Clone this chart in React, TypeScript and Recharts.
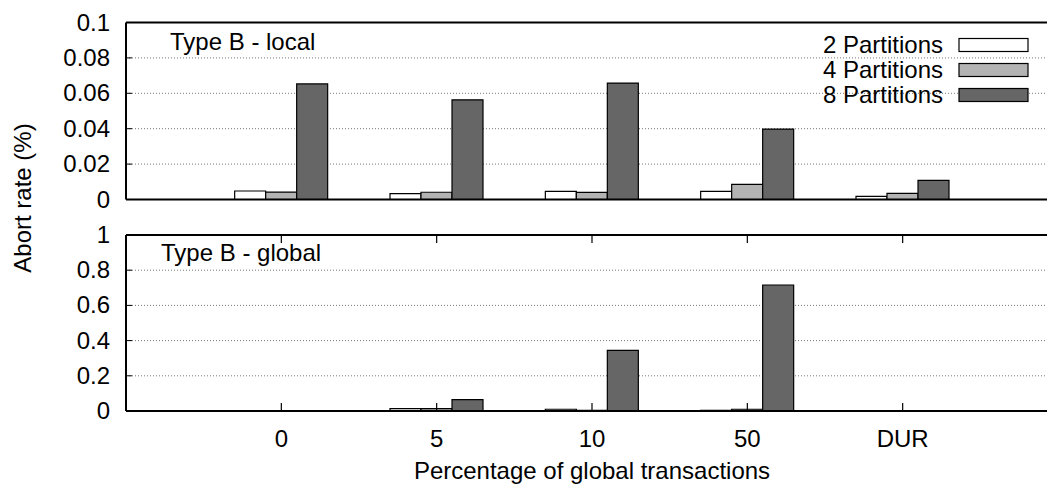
import { Bar, BarChart, CartesianGrid, XAxis, YAxis } from "recharts";

const categories = ["0", "5", "10", "50", "DUR"];
const seriesNames = ["2 Partitions", "4 Partitions", "8 Partitions"];
const seriesColors = ["#ffffff", "#b3b3b3", "#666666"];

// Type B - local
const localTwo = [0.0048, 0.0033, 0.0046, 0.0046, 0.0018];
const localFour = [0.0042, 0.0041, 0.004, 0.0086, 0.0035];
const localEight = [0.0653, 0.0563, 0.0658, 0.0398, 0.0108];

// Type B - global
const globalTwo = [0, 0.014, 0.01, 0.003, 0];
const globalFour = [0, 0.014, 0.003, 0.01, 0];
const globalEight = [0, 0.065, 0.345, 0.716, 0];

const localTicks = [0, 0.02, 0.04, 0.06, 0.08, 0.1];
const globalTicks = [0, 0.2, 0.4, 0.6, 0.8, 1];
const positions = [0, 1, 2, 3, 4];

const buildRows = (a: number[], b: number[], c: number[]) =>
  categories.map((label, i) => ({ pos: positions[i], label, p2: a[i], p4: b[i], p8: c[i] }));

const localData = buildRows(localTwo, localFour, localEight);
const globalData = buildRows(globalTwo, globalFour, globalEight);

const FONT = "'Liberation Sans', Arial, Helvetica, sans-serif";
const FS = 24;
const CHART_W = 1070;

const YTick = (props: any) => {
  const { x, y, payload } = props;
  return (
    <g>
      <line x1={x} x2={x + 6} y1={y} y2={y} stroke="#000" strokeWidth={1} />
      <text x={x - 16} y={y + 8} textAnchor="end" fontSize={FS} fontFamily={FONT} fill="#000">
        {payload.value}
      </text>
    </g>
  );
};

const BottomTick = (props: any) => {
  const { x, y, payload } = props;
  return (
    <g>
      <line x1={x} x2={x} y1={y} y2={y - 8} stroke="#000" strokeWidth={1.2} />
      <text x={x} y={y + 36} textAnchor="middle" fontSize={FS} fontFamily={FONT} fill="#000">
        {categories[payload.value]}
      </text>
    </g>
  );
};

const TopTick = (props: any) => {
  const { x, y } = props;
  return <line x1={x} x2={x} y1={y} y2={y + 8} stroke="#000" strokeWidth={1.2} />;
};

const NoTick = () => null;

const bars = () =>
  ["p2", "p4", "p8"].map((key, i) => (
    <Bar
      key={key}
      dataKey={key}
      name={seriesNames[i]}
      fill={seriesColors[i]}
      stroke="#000"
      strokeWidth={1.2}
      barSize={31}
      isAnimationActive={false}
    />
  ));

const Panel = ({ data, height, margin, ticks, domain, showTicks, bottomHeight }: any) => (
  <BarChart width={CHART_W} height={height} data={data} margin={margin} barGap={0}>
    <CartesianGrid vertical={false} stroke="#777" strokeDasharray="1 2" />
    <XAxis
      dataKey="pos"
      type="number"
      domain={[-1, 5]}
      ticks={positions}
      allowDataOverflow
      height={bottomHeight}
      tickSize={0}
      tickMargin={0}
      tick={showTicks ? <BottomTick /> : NoTick}
      tickLine={false}
      axisLine={{ stroke: "#000", strokeWidth: 2 }}
      label={
        showTicks
          ? {
              value: "Percentage of global transactions",
              position: "insideBottom",
              offset: 8,
              fontSize: FS,
              fontFamily: FONT,
              fill: "#000",
            }
          : undefined
      }
    />
    <XAxis
      xAxisId="top"
      orientation="top"
      dataKey="pos"
      type="number"
      domain={[-1, 5]}
      ticks={positions}
      allowDataOverflow
      height={1}
      tickSize={0}
      tickMargin={0}
      tick={showTicks ? <TopTick /> : NoTick}
      tickLine={false}
      axisLine={{ stroke: "#000", strokeWidth: 2 }}
    />
    <YAxis
      type="number"
      domain={domain}
      ticks={ticks}
      allowDataOverflow
      width={126}
      tickSize={0}
      tickMargin={0}
      tick={<YTick />}
      tickLine={false}
      axisLine={{ stroke: "#000", strokeWidth: 2 }}
    />
    {bars()}
  </BarChart>
);

const App = () => {
  const legendRows = [45, 70, 95];
  return (
    <div
      style={{
        position: "absolute",
        left: 0,
        top: 0,
        width: 1047,
        height: 487,
        overflow: "hidden",
        background: "#fff",
      }}
    >
      <div style={{ position: "absolute", left: 0, top: 215 }}>
        <Panel
          data={globalData}
          height={272}
          margin={{ top: 19, right: 12, left: 0, bottom: 0 }}
          ticks={globalTicks}
          domain={[0, 1]}
          showTicks
          bottomHeight={76}
        />
      </div>
      <div style={{ position: "absolute", left: 0, top: 0 }}>
        <Panel
          data={localData}
          height={215}
          margin={{ top: 21.5, right: 12, left: 0, bottom: 14.5 }}
          ticks={localTicks}
          domain={[0, 0.1]}
          showTicks={false}
          bottomHeight={1}
        />
      </div>
      <svg
        width={1047}
        height={487}
        style={{ position: "absolute", left: 0, top: 0, pointerEvents: "none" }}
        fontFamily={FONT}
        fontSize={FS}
      >
        <text x={170} y={50} fill="#000">
          Type B - local
        </text>
        <text x={161} y={261} fill="#000">
          Type B - global
        </text>
        <text x={31} y={198} fill="#000" textAnchor="middle" transform="rotate(-90 31 198)">
          Abort rate (%)
        </text>
        {seriesNames.map((name, i) => (
          <g key={name}>
            <text x={943} y={legendRows[i] + 8} textAnchor="end" fill="#000">
              {name}
            </text>
            <rect
              x={959}
              y={legendRows[i] - 6.5}
              width={69}
              height={13}
              fill={seriesColors[i]}
              stroke="#000"
              strokeWidth={1.2}
            />
          </g>
        ))}
      </svg>
    </div>
  );
};

export default App;
